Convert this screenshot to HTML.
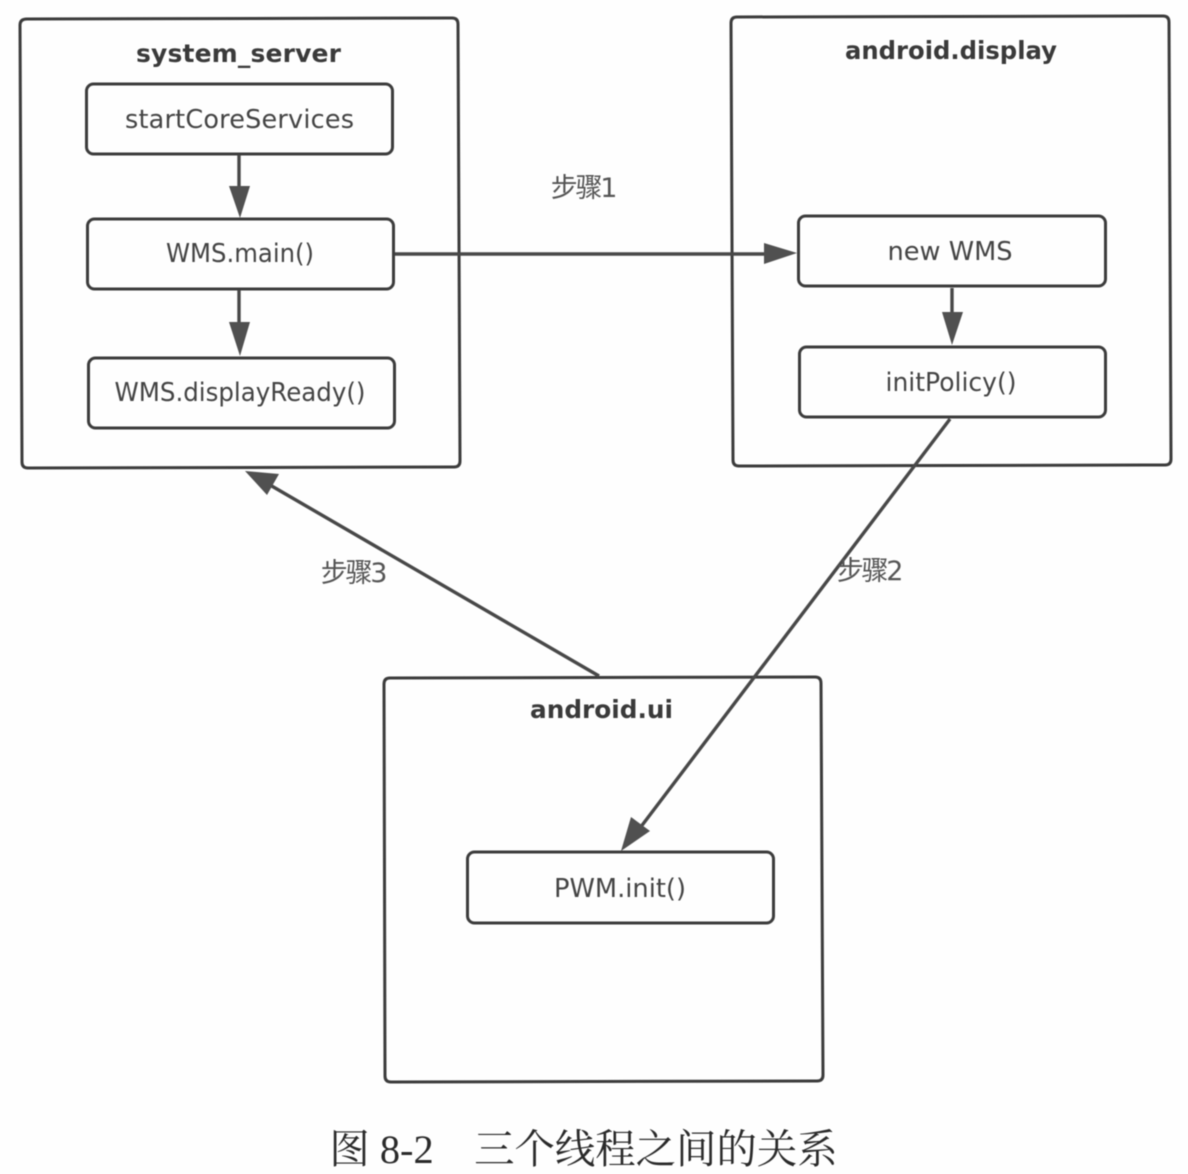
<!DOCTYPE html>
<html><head><meta charset="utf-8"><style>
html,body{margin:0;padding:0;background:#fefefe}
svg{display:block;filter:blur(.5px)}
text{font-family:"DejaVu Sans","Noto Sans CJK SC",sans-serif;text-anchor:middle;fill:#444}
.t{font-weight:bold;fill:#3a3a3a;font-size:25px}
.n{font-size:25.5px}
.l{font-size:27px;letter-spacing:-2.2px;fill:#555}
.c{font-family:"Liberation Serif","Noto Serif CJK SC",serif;font-size:40.4px;fill:#2a2a2a}
rect{fill:none;stroke:#3c3c3c;stroke-width:3}
.b{fill:none;stroke:#3c3c3c;stroke-width:3}
.e{stroke:#484848;stroke-width:3.400;fill:none}
.a{fill:#505050;stroke:none}
</style></head><body>
<svg width="1188" height="1174" viewBox="0 0 1188 1174" xmlns="http://www.w3.org/2000/svg">
<path class="b" d="M27 19 L452 18 Q458 18 458 24 L460 461 Q460 467 454 467 L28 468 Q22 468 22 462 L20 25 Q20 19 27 19 Z"/>
<path class="b" d="M737 17 L1163 16 Q1169 16 1169 22 L1171 459 Q1171 465 1165 465 L739 466 Q733 466 733 460 L731 23 Q731 17 737 17 Z"/>
<path class="b" d="M390 678 L815 677 Q821 677 821 683 L823 1075 Q823 1081 817 1081 L391 1082 Q385 1082 385 1076 L384 684 Q384 678 390 678 Z"/>
<rect x="86.500" y="84" width="306" height="70" rx="7"/>
<rect x="87.500" y="219" width="306" height="70" rx="7"/>
<rect x="88.500" y="358" width="306" height="70" rx="7"/>
<rect x="798.500" y="216" width="307" height="70" rx="7"/>
<rect x="799.500" y="347" width="306" height="70" rx="7"/>
<rect x="467.500" y="852" width="306" height="71" rx="7"/>
<path class="e" d="M239 155 V195"/><path class="a" d="M229 186 H250 L240 218 Z"/>
<path class="e" d="M239 290 V332"/><path class="a" d="M229 322 H250 L240 356 Z"/>
<path class="e" d="M952 288 V318"/><path class="a" d="M942 312 H963 L952 345 Z"/>
<path class="e" d="M395 254 H770"/><path class="a" d="M764 243 L797 253 L764 264 Z"/>
<path class="e" d="M599 676 L270 485"/><path class="a" d="M245 471 L279 474 L267 495 Z"/>
<path class="e" d="M950 419 L640 828"/><path class="a" d="M621 851 L631 817 L650 831 Z"/>
<text class="t" x="238.500" y="62" textLength="205" lengthAdjust="spacing">system_server</text>
<text class="t" x="951" y="59" textLength="212" lengthAdjust="spacingAndGlyphs">android.display</text>
<text class="t" x="601.500" y="718" textLength="143" lengthAdjust="spacingAndGlyphs">android.ui</text>
<text class="n" x="239.500" y="128" textLength="229" lengthAdjust="spacing">startCoreServices</text>
<text class="n" x="240" y="262" textLength="148" lengthAdjust="spacingAndGlyphs">WMS.main()</text>
<text class="n" x="240" y="401" textLength="251" lengthAdjust="spacingAndGlyphs">WMS.displayReady()</text>
<text class="n" x="950" y="260" textLength="125" lengthAdjust="spacingAndGlyphs">new WMS</text>
<text class="n" x="951" y="391" textLength="131" lengthAdjust="spacingAndGlyphs">initPolicy()</text>
<text class="n" x="620" y="897" textLength="132" lengthAdjust="spacingAndGlyphs">PWM.init()</text>
<text class="l" x="583" y="197">步骤1</text>
<text class="l" x="869" y="580">步骤2</text>
<text class="l" x="353" y="582">步骤3</text>
<text class="c" x="583.500" y="1163" xml:space="preserve">图 8-2　三个线程之间的关系</text>
</svg>
</body></html>
